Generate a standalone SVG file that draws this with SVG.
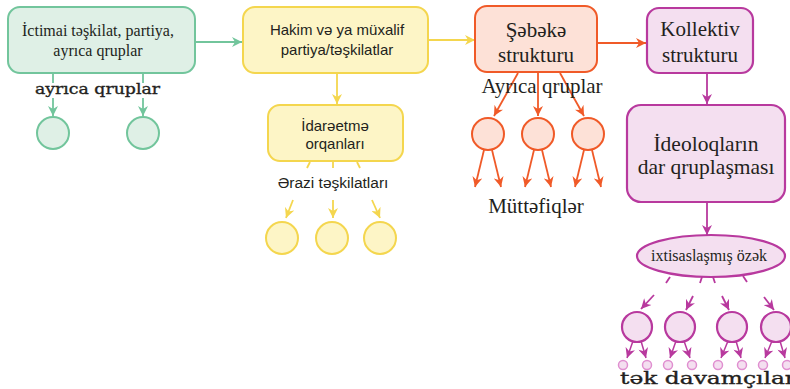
<svg xmlns="http://www.w3.org/2000/svg" width="790" height="389" viewBox="0 0 790 389">
<style>
.t{font-family:"Liberation Serif","Times New Roman",serif;fill:#231f20;text-anchor:middle}
.s{font-family:"Liberation Sans",Arial,sans-serif;fill:#231f20;text-anchor:middle}
.w{font-family:"DejaVu Serif",serif;fill:#231f20;stroke:#231f20;stroke-width:0.35}
.g{stroke:#72c59c;stroke-width:2;fill:#dff0e6}
.y{stroke:#f4d64e;stroke-width:2;fill:#fdf5c6}
.o{stroke:#f05a28;stroke-width:2;fill:#fde1d7}
.m{stroke:#b8399e;stroke-width:2.2;fill:#f4dff0}
.ml{stroke:#e08fd0;stroke-width:1.5;fill:#f4dff0}
.lg{stroke:#72c59c;stroke-width:1.8;fill:none}
.ly{stroke:#f4d64e;stroke-width:1.8;fill:none}
.lo{stroke:#f05a28;stroke-width:1.8;fill:none}
.lm{stroke:#b8399e;stroke-width:1.8;fill:none}
</style>
<defs>
<marker id="ag" viewBox="0 0 10 10" refX="10" refY="5" markerWidth="11" markerHeight="10" markerUnits="userSpaceOnUse" orient="auto"><path d="M0,0 L10,5 L0,10 L3,5 z" fill="#72c59c"/></marker>
<marker id="ay" viewBox="0 0 10 10" refX="10" refY="5" markerWidth="11" markerHeight="10" markerUnits="userSpaceOnUse" orient="auto"><path d="M0,0 L10,5 L0,10 L3,5 z" fill="#f4d64e"/></marker>
<marker id="ao" viewBox="0 0 10 10" refX="10" refY="5" markerWidth="11" markerHeight="10" markerUnits="userSpaceOnUse" orient="auto"><path d="M0,0 L10,5 L0,10 L3,5 z" fill="#f05a28"/></marker>
<marker id="am" viewBox="0 0 10 10" refX="10" refY="5" markerWidth="11" markerHeight="10" markerUnits="userSpaceOnUse" orient="auto"><path d="M0,0 L10,5 L0,10 L3,5 z" fill="#b8399e"/></marker>
</defs>
<rect width="790" height="389" fill="#ffffff"/>

<g id="connectors">
<!-- green -->
<line class="lg" x1="196" y1="42" x2="242" y2="42" marker-end="url(#ag)"/>
<line class="lg" x1="53" y1="74" x2="53" y2="83"/>
<line class="lg" x1="53" y1="98" x2="53" y2="116" marker-end="url(#ag)"/>
<line class="lg" x1="143" y1="74" x2="143" y2="83"/>
<line class="lg" x1="143" y1="98" x2="143" y2="116" marker-end="url(#ag)"/>
<!-- yellow -->
<line class="ly" x1="429" y1="40" x2="475" y2="40" marker-end="url(#ay)"/>
<line class="ly" x1="337" y1="74" x2="337" y2="104" marker-end="url(#ay)"/>
<line class="ly" x1="310" y1="162" x2="307" y2="168"/>
<line class="ly" x1="333" y1="162" x2="333" y2="168"/>
<line class="ly" x1="357" y1="162" x2="360" y2="168"/>
<line class="ly" x1="293" y1="200" x2="286" y2="218" marker-end="url(#ay)"/>
<line class="ly" x1="333" y1="200" x2="333" y2="218" marker-end="url(#ay)"/>
<line class="ly" x1="372" y1="200" x2="380" y2="218" marker-end="url(#ay)"/>
<!-- orange -->
<line class="lo" x1="598" y1="43" x2="646" y2="43" marker-end="url(#ao)"/>
<line class="lo" x1="518" y1="73" x2="494" y2="116" marker-end="url(#ao)"/>
<line class="lo" x1="538" y1="73" x2="538" y2="116" marker-end="url(#ao)"/>
<line class="lo" x1="560" y1="73" x2="584" y2="116" marker-end="url(#ao)"/>
<line class="lo" x1="484" y1="150" x2="475" y2="187" marker-end="url(#ao)"/>
<line class="lo" x1="492" y1="150" x2="501" y2="187" marker-end="url(#ao)"/>
<line class="lo" x1="534" y1="150" x2="525" y2="187" marker-end="url(#ao)"/>
<line class="lo" x1="542" y1="150" x2="551" y2="187" marker-end="url(#ao)"/>
<line class="lo" x1="584" y1="150" x2="575" y2="187" marker-end="url(#ao)"/>
<line class="lo" x1="592" y1="150" x2="601" y2="187" marker-end="url(#ao)"/>
<!-- magenta -->
<line class="lm" x1="707" y1="74" x2="707" y2="104" marker-end="url(#am)"/>
<line class="lm" x1="707" y1="203" x2="707" y2="235" marker-end="url(#am)"/>
<line class="lm" x1="670" y1="277" x2="666" y2="283"/>
<line class="lm" x1="702" y1="277" x2="700" y2="283"/>
<line class="lm" x1="713" y1="277" x2="715" y2="283"/>
<line class="lm" x1="743" y1="276" x2="747" y2="282"/>
<line class="lm" x1="654" y1="295" x2="641" y2="309" marker-end="url(#am)"/>
<line class="lm" x1="693" y1="296" x2="686" y2="310" marker-end="url(#am)"/>
<line class="lm" x1="722" y1="296" x2="729" y2="310" marker-end="url(#am)"/>
<line class="lm" x1="764" y1="297" x2="774" y2="310" marker-end="url(#am)"/>
<g stroke="#b8399e" stroke-width="1.5">
<line x1="633" y1="341" x2="627" y2="358" marker-end="url(#am)"/>
<line x1="641" y1="341" x2="646" y2="358" marker-end="url(#am)"/>
<line x1="676" y1="341" x2="670" y2="358" marker-end="url(#am)"/>
<line x1="684" y1="341" x2="690" y2="358" marker-end="url(#am)"/>
<line x1="728" y1="341" x2="721" y2="358" marker-end="url(#am)"/>
<line x1="736" y1="341" x2="741" y2="358" marker-end="url(#am)"/>
<line x1="772" y1="341" x2="765" y2="358" marker-end="url(#am)"/>
<line x1="780" y1="341" x2="785" y2="358" marker-end="url(#am)"/>
</g>
</g>

<g id="n-ictimai">
<rect class="g" x="8" y="7" width="187" height="66" rx="12"/>
<text class="t" x="98" y="36" font-size="16">İctimai təşkilat, partiya,</text>
<text class="t" x="98" y="56" font-size="16">ayrıca qruplar</text>
</g>
<g id="l-ayrica"><text class="w" x="35" y="94" font-size="15" textLength="125" lengthAdjust="spacingAndGlyphs">ayrıca qruplar</text></g>
<g id="n-g1"><circle class="g" cx="53" cy="133" r="16"/></g>
<g id="n-g2"><circle class="g" cx="143" cy="133" r="16"/></g>

<g id="n-hakim">
<rect class="y" x="243" y="7" width="185" height="66" rx="12"/>
<text class="s" x="337" y="35" font-size="15">Hakim və ya müxalif</text>
<text class="s" x="337" y="55" font-size="15">partiya/təşkilatlar</text>
</g>
<g id="n-idare">
<rect class="y" x="268" y="105" width="135" height="56" rx="12"/>
<text class="s" x="335" y="131" font-size="15">İdarəetmə</text>
<text class="s" x="335" y="149" font-size="15">orqanları</text>
</g>
<g id="l-erazi"><text class="s" x="333" y="188" font-size="15.5">Ərazi təşkilatları</text></g>
<g id="n-y1"><circle class="y" cx="282" cy="238" r="16"/></g>
<g id="n-y2"><circle class="y" cx="332" cy="238" r="16"/></g>
<g id="n-y3"><circle class="y" cx="380" cy="238" r="16"/></g>

<g id="n-sebeke">
<rect class="o" x="475" y="6" width="122" height="66" rx="12"/>
<text class="t" x="536" y="37" font-size="21">Şəbəkə</text>
<text class="t" x="536" y="62" font-size="21">strukturu</text>
</g>
<g id="l-ayrica2"><text class="t" x="542" y="93" font-size="21">Ayrıca qruplar</text></g>
<g id="n-o1"><circle class="o" cx="488" cy="134" r="16"/></g>
<g id="n-o2"><circle class="o" cx="538" cy="134" r="16"/></g>
<g id="n-o3"><circle class="o" cx="588" cy="134" r="16"/></g>
<g id="l-muttefiq"><text class="t" x="536" y="213" font-size="21">Müttəfiqlər</text></g>

<g id="n-kollektiv">
<rect class="m" x="647" y="8" width="106" height="65" rx="12"/>
<text class="t" x="700" y="36" font-size="21">Kollektiv</text>
<text class="t" x="700" y="62" font-size="21">strukturu</text>
</g>
<g id="n-ideoloq">
<rect class="m" x="627" y="105" width="158" height="97" rx="14"/>
<text class="t" x="706" y="151" font-size="21.5">İdeoloqların</text>
<text class="t" x="706" y="174" font-size="21.5">dar qruplaşması</text>
</g>
<g id="n-ozek">
<ellipse class="m" cx="711" cy="256" rx="74" ry="21"/>
<text class="t" x="709" y="261" font-size="16">ixtisaslaşmış özək</text>
</g>
<g id="n-m1"><circle class="m" cx="637" cy="327" r="15"/></g>
<g id="n-m2"><circle class="m" cx="680" cy="327" r="15"/></g>
<g id="n-m3"><circle class="m" cx="732" cy="327" r="15"/></g>
<g id="n-m4"><circle class="m" cx="776" cy="327" r="15"/></g>
<g id="n-small">
<circle class="ml" cx="623" cy="365" r="4.5"/>
<circle class="ml" cx="647" cy="365" r="4.5"/>
<circle class="ml" cx="668" cy="365" r="4.5"/>
<circle class="ml" cx="692" cy="365" r="4.5"/>
<circle class="ml" cx="718" cy="365" r="4.5"/>
<circle class="ml" cx="742" cy="365" r="4.5"/>
<circle class="ml" cx="763" cy="365" r="4.5"/>
<circle class="ml" cx="787" cy="365" r="4.5"/>
</g>
<g id="l-tek"><text class="w" x="620" y="384" font-size="16" textLength="176" lengthAdjust="spacingAndGlyphs">tək davamçılar</text></g>
</svg>
